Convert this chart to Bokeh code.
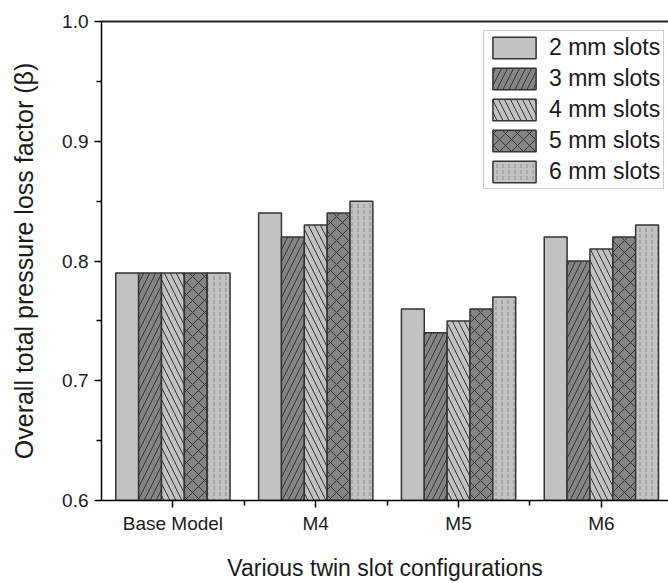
from bokeh.plotting import figure
from bokeh.models import LinearAxis, FixedTicker, Range1d, ColumnDataSource, NumeralTickFormatter
from bokeh.transform import dodge
from bokeh.embed import file_html
from bokeh.resources import INLINE

groups = ["Base Model", "M4", "M5", "M6"]
group_pos = [1, 2, 3, 4]
slots_2mm = [0.79, 0.84, 0.76, 0.82]
slots_3mm = [0.79, 0.82, 0.74, 0.80]
slots_4mm = [0.79, 0.83, 0.75, 0.81]
slots_5mm = [0.79, 0.84, 0.76, 0.82]
slots_6mm = [0.79, 0.85, 0.77, 0.83]
series_names = ["2 mm slots", "3 mm slots", "4 mm slots", "5 mm slots", "6 mm slots"]
y_ticks = [0.6, 0.7, 0.8, 0.9, 1.0]

FONT = "Liberation Sans"
TXT = "#1a1a1a"

source = ColumnDataSource(dict(x=group_pos, s2=slots_2mm, s3=slots_3mm,
                               s4=slots_4mm, s5=slots_5mm, s6=slots_6mm))

p = figure(width=668, height=583, output_backend="svg", toolbar_location=None,
           x_range=Range1d(0.5, 4.47), y_range=Range1d(0.6, 1.0),
           min_border_left=101, min_border_right=0, min_border_top=21,
           min_border_bottom=83)
p.outline_line_color = None
p.grid.visible = False
p.background_fill_color = "white"
p.border_fill_color = "white"

styles = [
    ("s2", series_names[0], "#c2c2c2", None, -0.32),
    ("s3", series_names[1], "#858585", "/", -0.16),
    ("s4", series_names[2], "#c2c2c2", "\\", 0.0),
    ("s5", series_names[3], "#858585", "x", 0.16),
    ("s6", series_names[4], "#c2c2c2", ":", 0.32),
]
for col, name, fill, hatch, off in styles:
    kw = {}
    if hatch is not None:
        kw = dict(hatch_pattern=hatch, hatch_color="#333333" if hatch != ":" else "#8a8a8a",
                  hatch_weight=1, hatch_scale=12 if hatch != ":" else 6)
    p.vbar(x=dodge("x", off, range=p.x_range), top=col, bottom=0, width=0.16,
           source=source, fill_color=fill, line_color="#333333", line_width=1.5,
           legend_label=name, **kw)

# y axis
ya = p.yaxis[0]
ya.ticker = FixedTicker(ticks=y_ticks, minor_ticks=[0.65, 0.75, 0.85, 0.95])
ya.formatter = NumeralTickFormatter(format="0.0")
ya.axis_label = "Overall total pressure loss factor (\u03b2)"
ya.axis_label_text_font = FONT
ya.axis_label_text_font_style = "normal"
ya.axis_label_text_font_size = "25px"
ya.axis_label_text_color = TXT
ya.axis_label_standoff = 21
ya.major_label_text_font = FONT
ya.major_label_text_font_size = "19px"
ya.major_label_text_color = TXT
ya.major_label_standoff = 6
ya.major_tick_in = 0
ya.major_tick_out = 7
ya.minor_tick_in = 0
ya.minor_tick_out = 5
ya.axis_line_width = 1.5
ya.major_tick_line_width = 1.5
ya.minor_tick_line_width = 1.5
ya.axis_line_color = "black"
ya.major_tick_line_color = "black"
ya.minor_tick_line_color = "black"

# x axis
xa = p.xaxis[0]
xa.ticker = FixedTicker(ticks=group_pos, minor_ticks=[1.5, 2.5, 3.5])
xa.major_label_overrides = {pos: name for pos, name in zip(group_pos, groups)}
xa.axis_label = "Various twin slot configurations"
xa.axis_label_text_font = FONT
xa.axis_label_text_font_style = "normal"
xa.axis_label_text_font_size = "23px"
xa.axis_label_text_color = TXT
xa.axis_label_standoff = 18
xa.major_label_text_font = FONT
xa.major_label_text_font_size = "19px"
xa.major_label_text_color = TXT
xa.major_label_standoff = 5
xa.major_tick_in = 0
xa.major_tick_out = 7
xa.minor_tick_in = 0
xa.minor_tick_out = 5
xa.axis_line_width = 1.5
xa.major_tick_line_width = 1.5
xa.minor_tick_line_width = 1.5
xa.axis_line_color = "black"
xa.major_tick_line_color = "black"
xa.minor_tick_line_color = "black"

# top frame line
top = LinearAxis(ticker=FixedTicker(ticks=[]), major_label_text_font_size="0px",
                 major_tick_line_color=None, minor_tick_line_color=None,
                 axis_line_width=2, axis_line_color="#222222",
                 major_label_standoff=0, major_tick_out=0, minor_tick_out=0)
p.add_layout(top, "above")

lg = p.legend[0]
lg.location = (382, 311)
lg.glyph_width = 54
lg.glyph_height = 27
lg.spacing = 4
lg.padding = 3
lg.margin = 0
lg.label_standoff = 8
lg.label_text_font = FONT
lg.label_text_font_size = "23px"
lg.label_text_color = TXT
lg.label_height = 27
lg.border_line_color = "#999999"
lg.border_line_width = 1
lg.background_fill_color = "white"
lg.background_fill_alpha = 1.0

open("out.html", "w").write(file_html(p, INLINE))
